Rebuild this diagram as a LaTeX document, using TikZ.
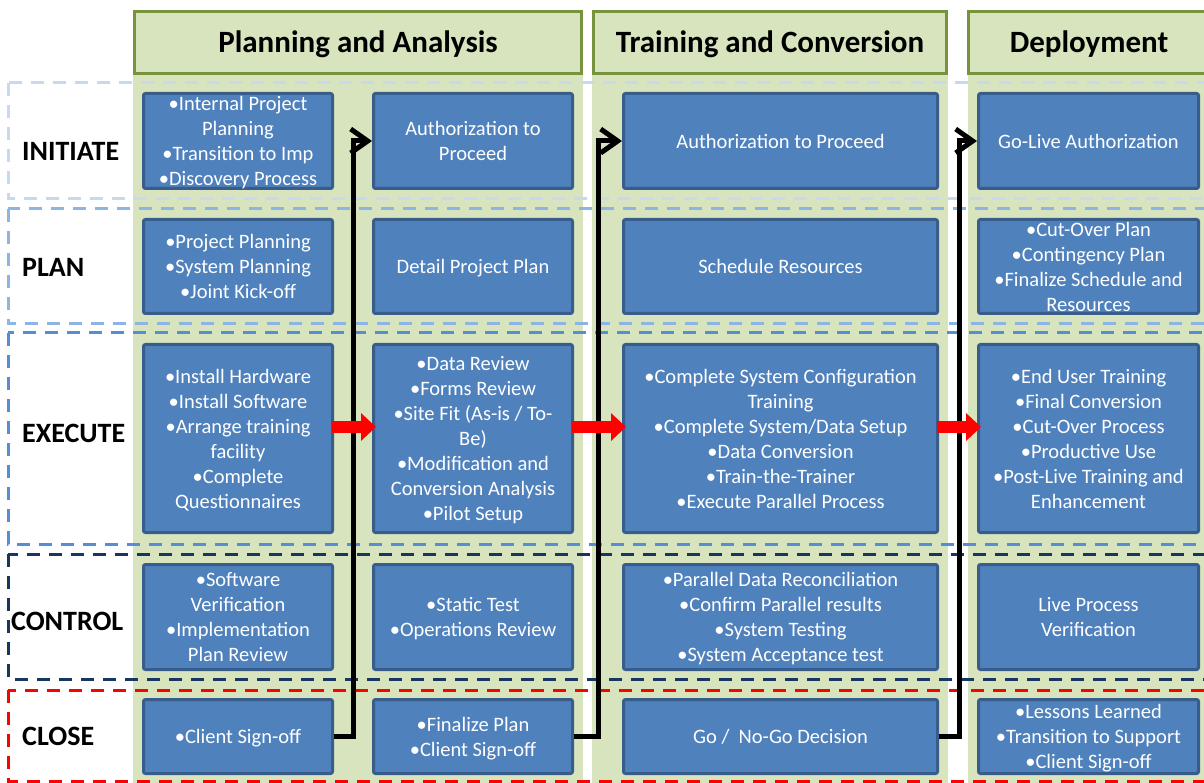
\documentclass[tikz,border=0pt]{standalone}
\usepackage{fontspec}
\setmainfont{Carlito}
\usetikzlibrary{arrows.meta}
\definecolor{boxfill}{HTML}{4F81BD}
\definecolor{boxline}{HTML}{385D8A}
\definecolor{greenfill}{HTML}{D7E4BD}
\definecolor{greenline}{HTML}{77933C}
\definecolor{rowA}{HTML}{C6D9F1}
\definecolor{rowB}{HTML}{8EB4E3}
\definecolor{rowC}{HTML}{558ED5}
\definecolor{rowD}{HTML}{17375E}
\definecolor{rowE}{HTML}{FF0000}
\begin{document}
\begin{tikzpicture}[x=1pt,y=-1pt,
  hdr/.style={draw=greenline,fill=greenfill,line width=3pt,inner sep=0pt},
  hdrtext/.style={inner sep=0pt,font=\fontsize{31}{36}\selectfont\bfseries},
  rowlabel/.style={anchor=west,inner sep=0pt,font=\fontsize{28}{32}\selectfont\bfseries},
  dashrow/.style={line width=3pt,dash pattern=on 13pt off 9pt},
  task/.style={draw=boxline,fill=boxfill,line width=3pt,rounded corners=2pt,
    text=white,align=center,inner sep=0pt,font=\fontsize{20.5}{25}\selectfont,
    text depth=0pt},
  cA/.style={minimum width=189pt},
  cB/.style={minimum width=199pt},
  cC/.style={minimum width=314pt},
  cD/.style={minimum width=220pt},
  rA/.style={minimum height=95pt},
  rB/.style={minimum height=94pt},
  rC/.style={minimum height=188pt},
  rD/.style={minimum height=105pt},
  rE/.style={minimum height=74pt},
  flow/.style={line width=5pt,line join=miter,-{Straight Barb[length=17pt,width=24pt]}},
  push/.style={draw=red,line width=12pt,-{Triangle[length=15pt,width=27pt]},
    shorten <=-2.5pt,shorten >=-4pt}]
\useasboundingbox (0,0) rectangle (1204,783);
\begin{scope}
\clip (0,0) rectangle (1204,783);

% phase columns
\fill[greenfill] (133,75) rectangle (583,783);
\fill[greenfill] (592,75) rectangle (948,783);
\fill[greenfill] (968,75) rectangle (1215,783);
\node[hdr,minimum width=447pt,minimum height=62pt] (h1) at (358,42.5) {};
\node[hdr,minimum width=353pt,minimum height=62pt] (h2) at (770,42.5) {};
\node[hdr,minimum width=245pt,minimum height=62pt] (h3) at (1091,42.5) {};
\node[hdrtext] (h1t) at (358,44.5) {Planning and Analysis};
\node[hdrtext] (h2t) at (770,44.5) {Training and Conversion};
\node[hdrtext] (h3t) at (1089,44.5) {Deployment};

% process group bands
\draw[dashrow,rowA] (8,83) rectangle (1230,199);
\draw[dashrow,rowB] (8,209) rectangle (1230,324);
\draw[dashrow,rowC] (8,333) rectangle (1230,544);
\draw[dashrow,rowD] (8,554) rectangle (1230,679);
\draw[dashrow,rowE] (8,690) rectangle (1230,781);

\node[rowlabel] (lA) at (22,151) {INITIATE};
\node[rowlabel] (lB) at (22,267) {PLAN};
\node[rowlabel] (lC) at (22,433) {EXECUTE};
\node[rowlabel] (lD) at (11,621) {CONTROL};
\node[rowlabel] (lE) at (22,736) {CLOSE};

% Planning and Analysis
\node[task,cA,rA] (a1) at (238,141) {•Internal Project\\Planning\\•Transition to Imp\\•Discovery Process};
\node[task,cA,rB] (a2) at (238,266.5) {•Project Planning\\•System Planning\\•Joint Kick-off};
\node[task,cA,rC] (a3) at (238,438.5) {•Install Hardware\\•Install Software\\•Arrange training\\facility\\•Complete\\Questionnaires};
\node[task,cA,rD] (a4) at (238,617) {•Software\\Verification\\•Implementation\\Plan Review};
\node[task,cA,rE] (a5) at (238,736.5) {•Client Sign-off};

\node[task,cB,rA] (b1) at (473,141) {Authorization to\\Proceed};
\node[task,cB,rB] (b2) at (473,266.5) {Detail Project Plan};
\node[task,cB,rC] (b3) at (473,438.5) {•Data Review\\•Forms Review\\•Site Fit (As-is / To-\\Be)\\•Modification and\\Conversion Analysis\\•Pilot Setup};
\node[task,cB,rD] (b4) at (473,617) {•Static Test\\•Operations Review};
\node[task,cB,rE] (b5) at (473,736.5) {•Finalize Plan\\•Client Sign-off};

% Training and Conversion
\node[task,cC,rA] (c1) at (780.5,141) {Authorization to Proceed};
\node[task,cC,rB] (c2) at (780.5,266.5) {Schedule Resources};
\node[task,cC,rC] (c3) at (780.5,438.5) {•Complete System Configuration\\Training\\•Complete System/Data Setup\\•Data Conversion\\•Train-the-Trainer\\•Execute Parallel Process};
\node[task,cC,rD] (c4) at (780.5,617) {•Parallel Data Reconciliation\\•Confirm Parallel results\\•System Testing\\•System Acceptance test};
\node[task,cC,rE] (c5) at (780.5,736.5) {Go /\ \ No-Go Decision};

% Deployment
\node[task,cD,rA] (d1) at (1088.5,141) {Go-Live Authorization};
\node[task,cD,rB] (d2) at (1088.5,266.5) {•Cut-Over Plan\\•Contingency Plan\\•Finalize Schedule and\\Resources};
\node[task,cD,rC] (d3) at (1088.5,438.5) {•End User Training\\•Final Conversion\\•Cut-Over Process\\•Productive Use\\•Post-Live Training and\\Enhancement};
\node[task,cD,rD] (d4) at (1088.5,617) {Live Process\\Verification};
\node[task,cD,rE] (d5) at (1088.5,736.5) {•Lessons Learned\\•Transition to Support\\•Client Sign-off};

% phase hand-offs
\coordinate (j1) at (353,141);
\coordinate (j2) at (598,141);
\coordinate (j3) at (959,141);
\draw[flow] (a5.east) -| (j1) -- (b1.west);
\draw[flow] (b5.east) -| (j2) -- (c1.west);
\draw[flow] (c5.east) -| (j3) -- (d1.west);

% execution flow
\draw[push] ([yshift=11.5pt]a3.east) -- ([yshift=11.5pt]b3.west);
\draw[push] ([yshift=11.5pt]b3.east) -- ([yshift=11.5pt]c3.west);
\draw[push] ([yshift=11.5pt]c3.east) -- ([yshift=11.5pt]d3.west);
\end{scope}
\end{tikzpicture}
\end{document}
